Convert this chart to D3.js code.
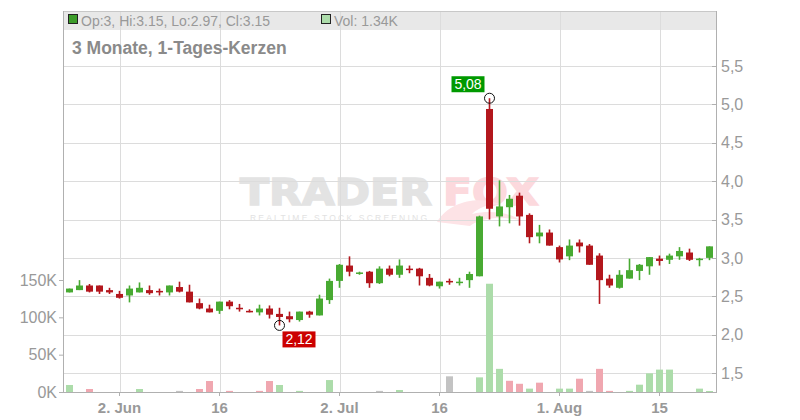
<!DOCTYPE html>
<html><head><meta charset="utf-8">
<script src="https://cdn.jsdelivr.net/npm/d3@7"></script>
<style>html,body{margin:0;padding:0;background:#fff;}svg{display:block;font-family:"Liberation Sans",Arial,sans-serif;}</style>
</head><body><svg id="c" width="800" height="420"></svg>
<script>
// ---- data ----
const startDate = "2025-05-26", endDate = "2025-08-23";
const open  = [2.55,2.58,2.64,2.64,2.58,2.53,2.51,2.55,2.58,2.57,2.55,2.62,2.56,2.41,2.34,2.31,2.43,2.35,2.31,2.29,2.34,2.27,2.24,2.19,2.30,2.25,2.45,2.70,2.90,2.80,2.82,2.67,2.86,2.78,2.86,2.86,2.74,2.63,2.70,2.68,2.71,2.76,4.94,3.54,3.66,3.81,3.56,3.28,3.33,3.14,3.02,3.20,3.16,3.03,2.73,2.61,2.73,2.83,2.89,2.99,2.975,3.02,3.07,2.98,3.00];
const high  = [2.60,2.71,2.66,2.64,2.61,2.57,2.64,2.68,2.64,2.60,2.64,2.69,2.65,2.47,2.39,2.43,2.45,2.40,2.33,2.39,2.38,2.35,2.30,2.30,2.31,2.52,2.73,2.92,3.02,2.82,2.83,2.89,2.90,2.98,2.90,2.87,2.79,2.69,2.73,2.74,2.82,3.55,5.08,4.01,3.82,3.85,3.58,3.43,3.37,3.16,3.24,3.24,3.18,3.06,2.78,2.84,2.99,2.92,3.01,3.03,3.055,3.14,3.12,3.00,3.15];
const low   = [2.55,2.58,2.55,2.53,2.53,2.47,2.42,2.55,2.52,2.51,2.51,2.55,2.42,2.33,2.29,2.27,2.33,2.30,2.29,2.25,2.21,2.12,2.16,2.17,2.22,2.25,2.40,2.61,2.76,2.78,2.61,2.66,2.76,2.74,2.80,2.64,2.63,2.60,2.65,2.64,2.61,2.76,3.50,3.41,3.45,3.42,3.19,3.19,3.16,2.94,2.97,3.07,2.91,2.40,2.61,2.60,2.73,2.71,2.78,2.90,2.92,2.975,2.96,2.89,2.97];
const close = [2.60,2.64,2.56,2.56,2.55,2.48,2.60,2.61,2.54,2.55,2.64,2.56,2.42,2.34,2.29,2.43,2.37,2.33,2.29,2.34,2.26,2.23,2.20,2.30,2.26,2.47,2.70,2.91,2.82,2.81,2.67,2.86,2.78,2.90,2.85,2.76,2.64,2.69,2.68,2.69,2.79,3.54,3.64,3.67,3.77,3.54,3.27,3.33,3.16,2.98,3.16,3.15,2.91,2.71,2.64,2.78,2.84,2.91,3.01,2.96,3.03,3.09,2.975,2.99,3.15];
const volumeK = [9.4,0,4,0,0,0,0,4,0,0,0,1.5,0,4,14.7,0,1.5,0,0,1.5,14.7,9.4,0,1.5,0,0,16,0,0,0,0,1.5,0,2.7,0,0,0,0,21,0,0,19.6,145,31,15,11,4.5,12.5,0,4.5,4.5,17.8,1.5,31,1.5,0,1.5,9.8,25,30,30,0,0,4.5,1.34];
const volDir  = "udddddduddunddddduddduuuuuuuuuunuuuuuunuuuuuddudduudnddduuuuuduuunu";
const priceTicks = [1.5,2.0,2.5,3.0,3.5,4.0,4.5,5.0,5.5];
const volTicks = [0,50000,100000,150000];
const xTickDates = ["2025-06-02","2025-06-16","2025-07-02","2025-07-16","2025-08-01","2025-08-15"];
const xTickLabels = ["2. Jun","16","2. Jul","16","1. Aug","15"];
const legendText = "Op:3, Hi:3.15, Lo:2.97, Cl:3.15";
const volLegendText = "Vol: 1.34K";
const titleText = "3 Monate, 1-Tages-Kerzen";
const hiLabel = "5,08", loLabel = "2,12";

// ---- layout ----
const L = 63, R = 716, T = 11, B = 392;
const svg = d3.select("#c");
const fmtKey = d3.utcFormat("%Y-%m-%d");
const dates = d3.utcDay.range(new Date(startDate), new Date(endDate))
  .filter(d => d.getUTCDay() !== 0 && d.getUTCDay() !== 6).map(fmtKey);
const data = dates.map((d,i) => ({d, o:open[i], h:high[i], l:low[i], c:close[i], v:volumeK[i]*1000, vd:volDir[i]}));

const x = d3.scaleBand().domain(dates).range([L, R]).padding(0.3);
const xc = d => x(d) + x.bandwidth()/2;
const y = d3.scaleLinear().domain([1.5, 5.5]).range([373, 66]);
const yv = d3.scaleLinear().domain([0, 150000]).range([B, 280]);

const gridC = "#dcdcdc", axisC = "#b0b0b0", textC = "#999";

// header band
svg.append("rect").attr("x", L).attr("y", T).attr("width", R-L).attr("height", 19).attr("fill", "#e8e8e8");

// watermark
const wm = svg.append("g");
wm.append("text").attr("x", 240).attr("y", 205).attr("font-family","DejaVu Sans").attr("font-weight","bold")
  .attr("font-size", 38).attr("fill", "#e3e3e3").attr("stroke", "#e3e3e3").attr("stroke-width", 1.5)
  .attr("textLength", 192).attr("lengthAdjust","spacingAndGlyphs").text("TRADER");
wm.append("text").attr("x", 443).attr("y", 205).attr("font-family","DejaVu Sans").attr("font-weight","bold")
  .attr("font-size", 38).attr("fill", "#fcd9dd").attr("stroke", "#fcd9dd").attr("stroke-width", 1.5)
  .attr("textLength", 96).attr("lengthAdjust","spacingAndGlyphs").text("FOX");
wm.append("path").attr("d","M437,222 C450,200 480,196 500,204 C488,204 478,208 472,214 C490,210 508,212 520,220 C500,216 480,218 470,226 Z").attr("fill","#fde3e6");
wm.append("text").attr("x", 250).attr("y", 221).attr("font-size", 8.5).attr("fill", "#e2e2e2")
  .attr("textLength", 177).attr("lengthAdjust","spacing").text("REALTIME STOCK SCREENING");

// grid
svg.append("g").selectAll("line").data(priceTicks).join("line")
  .attr("x1", L).attr("x2", R).attr("y1", d => Math.round(y(d))+0.5).attr("y2", d => Math.round(y(d))+0.5)
  .attr("stroke", gridC);
svg.append("g").selectAll("line").data(xTickDates).join("line")
  .attr("x1", d => Math.round(xc(d))+0.5).attr("x2", d => Math.round(xc(d))+0.5).attr("y1", T).attr("y2", B)
  .attr("stroke", gridC);

// header frame line
svg.append("line").attr("x1", L).attr("x2", R).attr("y1", T+0.5).attr("y2", T+0.5).attr("stroke", "#c8c8c8");

// volume bars
const volColor = {u:"#acdcaa", d:"#f0a7b0", n:"#c3c3c3"};
svg.append("g").selectAll("rect").data(data.filter(d => d.v > 0)).join("rect")
  .attr("x", d => x(d.d)).attr("width", x.bandwidth())
  .attr("y", d => yv(d.v)).attr("height", d => B - yv(d.v))
  .attr("fill", d => volColor[d.vd]);

// candles
const green = "#48aa32", red = "#b3171d";
const cg = svg.append("g");
cg.selectAll("line").data(data).join("line")
  .attr("x1", d => xc(d.d)).attr("x2", d => xc(d.d))
  .attr("y1", d => y(d.h)).attr("y2", d => y(d.l))
  .attr("stroke", d => d.c >= d.o ? green : red).attr("stroke-width", 1.6);
cg.selectAll("rect").data(data).join("rect")
  .attr("x", d => x(d.d)).attr("width", x.bandwidth())
  .attr("y", d => y(Math.max(d.o, d.c)))
  .attr("height", d => Math.max(1.5, Math.abs(y(d.o) - y(d.c))))
  .attr("fill", d => d.c >= d.o ? green : red);

// axes
const axR = svg.append("g").attr("transform", `translate(${R},0)`)
  .call(d3.axisRight(y).tickValues(priceTicks).tickSize(0).tickPadding(5).tickFormat(d => d3.format(".1f")(d).replace(".", ",")));
axR.select(".domain").remove();
axR.selectAll("text").attr("font-size", 16).attr("fill", textC).attr("font-family", "Liberation Sans");
svg.append("g").selectAll("line").data(priceTicks).join("line")
  .attr("x1", R-4).attr("x2", R).attr("y1", d => Math.round(y(d))+0.5).attr("y2", d => Math.round(y(d))+0.5).attr("stroke", axisC);

const axL = svg.append("g").attr("transform", `translate(${L},0)`)
  .call(d3.axisLeft(yv).tickValues(volTicks).tickSize(4).tickPadding(2).tickFormat(d => (d/1000) + "K"));
axL.select(".domain").remove();
axL.selectAll("line").attr("stroke", axisC);
axL.selectAll("text").attr("font-size", 16).attr("fill", textC).attr("font-family", "Liberation Sans");

const axB = svg.append("g").attr("transform", `translate(0,${B})`)
  .call(d3.axisBottom(x).tickValues(xTickDates).tickSize(4).tickPadding(6).tickFormat((d,i) => xTickLabels[i]));
axB.select(".domain").remove();
axB.selectAll("line").attr("stroke", axisC);
axB.selectAll("text").attr("font-size", 15).attr("font-weight", "bold").attr("fill", textC).attr("font-family", "Liberation Sans");

// frame lines
svg.append("line").attr("x1", L+0.5).attr("x2", L+0.5).attr("y1", T).attr("y2", B).attr("stroke", axisC);
svg.append("line").attr("x1", R+0.5).attr("x2", R+0.5).attr("y1", T).attr("y2", B).attr("stroke", axisC);
svg.append("line").attr("x1", L).attr("x2", R+1).attr("y1", B+0.5).attr("y2", B+0.5).attr("stroke", axisC);

// legend
svg.append("rect").attr("x", 68.5).attr("y", 14.5).attr("width", 9).attr("height", 9).attr("fill", "#3c9c2a").attr("stroke", "#222");
svg.append("text").attr("x", 81).attr("y", 26).attr("font-size", 14).attr("fill", textC).text(legendText);
svg.append("rect").attr("x", 321.5).attr("y", 14.5).attr("width", 9).attr("height", 9).attr("fill", "#acdcaa").attr("stroke", "#222");
svg.append("text").attr("x", 334).attr("y", 26).attr("font-size", 14).attr("fill", textC).text(volLegendText);
svg.append("text").attr("x", 72).attr("y", 54).attr("font-size", 17.5).attr("font-weight", "bold").attr("fill", "#8a8a8a").text(titleText);

// high / low markers
const iHi = d3.maxIndex(high), iLo = d3.minIndex(low);
function marker(i, val, label, bg, bx, by) {
  const cx = xc(dates[i]), cy = y(val);
  svg.append("circle").attr("cx", cx).attr("cy", cy).attr("r", 5).attr("fill", "none").attr("stroke", "#111").attr("stroke-width", 1);
  const g = svg.append("g").attr("transform", `translate(${cx+bx},${cy+by})`);
  g.append("rect").attr("width", 33).attr("height", 16).attr("fill", bg);
  g.append("text").attr("x", 16.5).attr("y", 13).attr("text-anchor", "middle").attr("font-size", 14).attr("fill", "#fff").text(label);
}
marker(iHi, high[iHi], hiLabel, "#009900", -38, -22);
marker(iLo, low[iLo], loLabel, "#cc0000", 3, 6);
</script></body></html>
